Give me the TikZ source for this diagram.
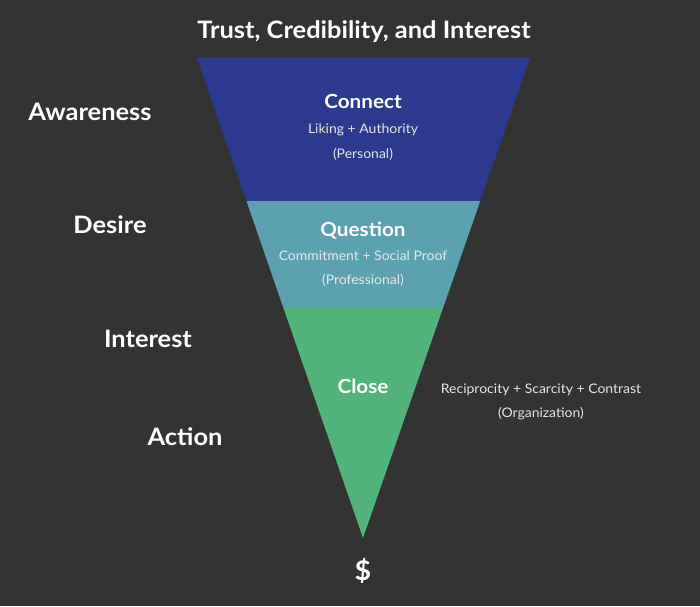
\documentclass[tikz,border=0pt]{standalone}
\usepackage{fontspec}
\setmainfont{Lato}[FakeStretch=1.06]
\usetikzlibrary{positioning}
\definecolor{bgdark}{HTML}{333333}
\definecolor{funnelblue}{HTML}{2B3A8F}
\definecolor{funnelteal}{HTML}{5CA1B0}
\definecolor{funnelgreen}{HTML}{52B47B}
\definecolor{softwhite}{HTML}{E6E6E6}

\begin{document}
\begin{tikzpicture}[x=1pt,y=1pt,
            phase/.style={text=white,font=\bfseries\fontsize{24}{27}\selectfont,inner sep=0pt,text height=22.5pt,text depth=5pt},
            stage/.style={text=white,font=\bfseries\fontsize{19.5}{22}\selectfont,inner sep=0pt,text height=18pt,text depth=4pt},
            detail/.style={text=softwhite,font=\fontsize{13.2}{15}\selectfont,inner sep=0pt,text height=12pt,text depth=2.5pt}]

        % Background
        \fill[bgdark] (0,0) rectangle (700,606);
        \useasboundingbox (0,0) rectangle (700,606);

        % Funnel bands
        \begin{scope}
            \clip (197,548) -- (530,548) -- (363,68) -- cycle;
            \fill[funnelblue] (190,548) rectangle (540,405);
            \fill[funnelteal] (190,405) rectangle (540,299);
            \fill[funnelgreen] (190,299) rectangle (540,60);
        \end{scope}

        % Title and phases
        \node[phase] (title) at (364,576) {Trust, Credibility, and Interest};
        \node[phase] (awareness) at (90,494) {Awareness};
        \node[phase] (desire) at (110,381) {Desire};
        \node[phase] (interest) at (148,267) {Interest};
        \node[phase] (action) at (185,169) {Action};
        \node[phase,font=\bfseries\fontsize{27}{30}\selectfont] (money) at (363,34) {\$};

        % Stages
        \node[stage] (connect) at (363,504) {Connect};
        \node[detail] (liking) [below=7.75pt of connect] {Liking + Authority};
        \node[detail] (personal) [below=10.5pt of liking] {(Personal)};

        \node[stage] (question) at (363,377) {Question};
        \node[detail] (commitment) [below=7.75pt of question] {Commitment + Social Proof};
        \node[detail] (professional) [below=9.5pt of commitment] {(Professional)};

        \node[stage] (close) at (363,220) {Close};
        \node[detail] (reciprocity) at (541,217) {Reciprocity + Scarcity + Contrast};
        \node[detail] (organization) [below=8.5pt of reciprocity] {(Organization)};

\end{tikzpicture}
\end{document}
